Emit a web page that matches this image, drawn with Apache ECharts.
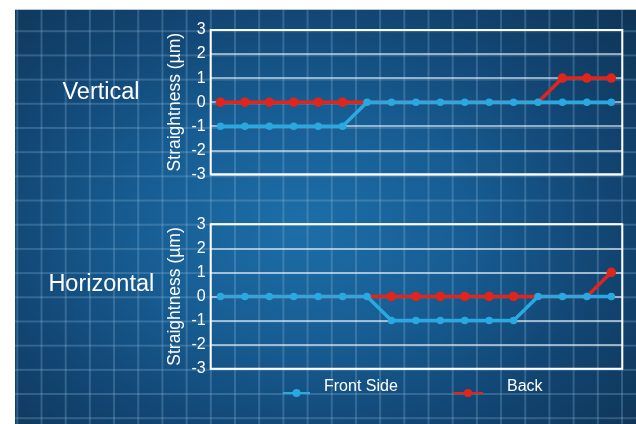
<!DOCTYPE html>
<html>
<head>
<meta charset="utf-8">
<script src="https://cdn.jsdelivr.net/npm/echarts@6/dist/echarts.min.js"></script>
<style>
  html, body { margin:0; padding:0; background:#ffffff; width:636px; height:424px; overflow:hidden; }
  #bg {
    position:absolute; left:15px; top:9px; right:0; bottom:0;
    border-top:1px solid #b9c3cc;
    background:
      linear-gradient(to right, rgba(140,185,220,0.28) 1.5px, transparent 1.5px) 1.35px 0 / 24.2px 24.2px,
      linear-gradient(to bottom, rgba(140,185,220,0.28) 1.5px, transparent 1.5px) 0 20.25px / 24.2px 24.2px,
      radial-gradient(ellipse 75% 80% at 46% 52%, #1d6ea8 0%, #175d93 35%, #124674 65%, #0e3353 100%);
  }
  #chart { position:absolute; left:0; top:0; width:636px; height:424px; }
</style>
</head>
<body>
<div id="bg"></div>
<div id="chart"></div>
<script>
// measurement positions (index along the part)
const positions = [0, 1, 2, 3, 4, 5, 6, 7, 8, 9, 10, 11, 12, 13, 14, 15, 16];
const yTicks = [-3, -2, -1, 0, 1, 2, 3];
const seriesNames = ['Front Side', 'Back'];
const panelTitles = ['Vertical', 'Horizontal'];

// Straightness (µm)
const frontVertical   = [-1, -1, -1, -1, -1, -1, 0, 0, 0, 0, 0, 0, 0, 0, 0, 0, 0];
const backVertical    = [0, 0, 0, 0, 0, 0, 0, 0, 0, 0, 0, 0, 0, 0, 1, 1, 1];
const frontHorizontal = [0, 0, 0, 0, 0, 0, 0, -1, -1, -1, -1, -1, -1, 0, 0, 0, 0];
const backHorizontal  = [0, 0, 0, 0, 0, 0, 0, 0, 0, 0, 0, 0, 0, 0, 0, 0, 1];

const BLUE = '#2aa9e0';
const RED = '#e1251b';
const FONT = '"Liberation Sans", Arial, Helvetica, sans-serif';

const chart = echarts.init(document.getElementById('chart'), null, { renderer: 'canvas' });

function pairs(arr) { return positions.map((p, i) => [p, arr[i]]); }

function yAxisFor(gi) {
  return {
    gridIndex: gi, type: 'value',
    min: yTicks[0], max: yTicks[yTicks.length - 1], interval: 1,
    name: 'Straightness (µm)', nameLocation: 'middle', nameGap: 27, nameMoveOverlap: false,
    nameTextStyle: { color: '#ffffff', fontSize: 17.5, fontFamily: FONT },
    axisLine: { show: false }, axisTick: { show: false },
    axisLabel: { color: '#ffffff', fontSize: 16, fontFamily: FONT, margin: 5 },
    splitLine: { lineStyle: { color: 'rgba(255,255,255,0.72)', width: 1.5 } }
  };
}
function xAxisFor(gi) {
  return { gridIndex: gi, type: 'value', min: -0.4, max: 16.45, show: false };
}
function frontSeries(gi, arr) {
  return {
    name: seriesNames[0], type: 'line', xAxisIndex: gi, yAxisIndex: gi, z: 4,
    data: pairs(arr), symbol: 'circle', symbolSize: 7.5,
    lineStyle: { color: BLUE, width: 3.5 }, itemStyle: { color: BLUE },
    emphasis: { disabled: true }
  };
}
function backSeries(gi, arr, front) {
  return {
    name: seriesNames[1], type: 'line', xAxisIndex: gi, yAxisIndex: gi, z: 3,
    data: pairs(arr), symbol: 'circle',
    symbolSize: function (v, p) { return (p && front[p.dataIndex] === v[1]) ? 0 : 9.5; },
    lineStyle: { color: RED, width: 3.5 }, itemStyle: { color: RED },
    emphasis: { disabled: true }
  };
}

function legendText(gap) {
  return {
    color: '#ffffff', fontSize: 16, fontFamily: FONT,
    rich: { t: { color: '#ffffff', fontSize: 16, fontFamily: FONT, padding: [0, 0, 12, gap] } }
  };
}

chart.setOption({
  animation: false,
  backgroundColor: 'transparent',
  grid: [
    { left: 210.7, top: 30, width: 411.6, height: 144.3, show: true, borderColor: '#ffffff', borderWidth: 2, backgroundColor: 'transparent' },
    { left: 210.7, top: 224.2, width: 411.6, height: 144.5, show: true, borderColor: '#ffffff', borderWidth: 2, backgroundColor: 'transparent' }
  ],
  xAxis: [xAxisFor(0), xAxisFor(1)],
  yAxis: [yAxisFor(0), yAxisFor(1)],
  legend: [
    { data: [seriesNames[0]], left: 277, top: 374, itemWidth: 27, itemHeight: 10, formatter: '{t|{name}}', textStyle: legendText(9), selectedMode: false },
    { data: [seriesNames[1]], left: 447, top: 374, itemWidth: 30, itemHeight: 10, formatter: '{t|{name}}', textStyle: legendText(19), selectedMode: false }
  ],
  graphic: [
    { type: 'text', x: 101, y: 92.5, style: { text: panelTitles[0], fill: '#ffffff', font: '23.5px ' + FONT, textAlign: 'center', textVerticalAlign: 'middle' } },
    { type: 'text', x: 101.3, y: 284.5, style: { text: panelTitles[1], fill: '#ffffff', font: '23.5px ' + FONT, textAlign: 'center', textVerticalAlign: 'middle' } }
  ],
  series: [
    backSeries(0, backVertical, frontVertical),
    frontSeries(0, frontVertical),
    backSeries(1, backHorizontal, frontHorizontal),
    frontSeries(1, frontHorizontal)
  ]
});
</script>
</body>
</html>
